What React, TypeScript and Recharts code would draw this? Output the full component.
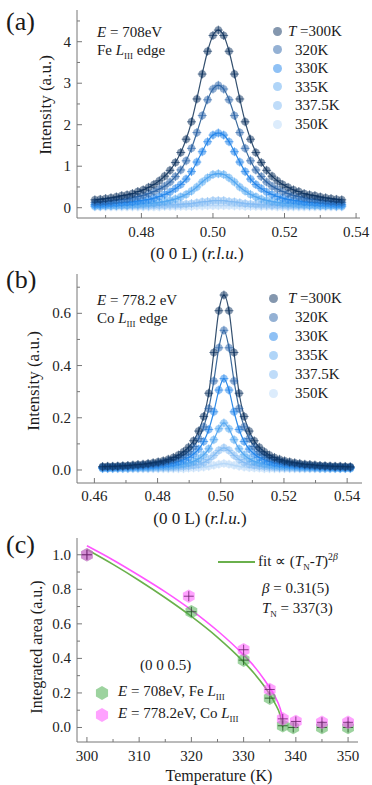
import React from "react";
import { ComposedChart, Line, Scatter, XAxis, YAxis } from "recharts";

const FONT = '"Liberation Serif", "Times New Roman", serif';
const FRAME = "#777";

// ---- (a) E = 708 eV, Fe L_III edge : L scans ----
const lFe = [
  0.467, 0.4685, 0.47, 0.4715, 0.473, 0.4745, 0.476, 0.4775, 0.479, 0.4805, 0.482, 0.4835,
  0.485, 0.4865, 0.488, 0.4895, 0.491, 0.4925, 0.494, 0.4955, 0.497, 0.4985, 0.5, 0.5015,
  0.503, 0.5045, 0.506, 0.5075, 0.509, 0.5105, 0.512, 0.5135, 0.515, 0.5165, 0.518, 0.5195,
  0.521, 0.5225, 0.524, 0.5255, 0.527, 0.5285, 0.53, 0.5315, 0.533, 0.5345, 0.536,
];
const fe300 = [
  0.19, 0.2, 0.22, 0.24, 0.26, 0.29, 0.31, 0.34, 0.39, 0.43, 0.49, 0.56, 0.65, 0.76, 0.9, 1.09,
  1.33, 1.65, 2.07, 2.62, 3.22, 3.77, 4.15, 4.28, 4.15, 3.77, 3.22, 2.62, 2.07, 1.65, 1.33, 1.09,
  0.9, 0.76, 0.65, 0.56, 0.49, 0.43, 0.39, 0.34, 0.31, 0.29, 0.26, 0.24, 0.22, 0.2, 0.19,
];
const fe320 = [
  0.13, 0.14, 0.15, 0.16, 0.18, 0.2, 0.21, 0.24, 0.27, 0.3, 0.34, 0.39, 0.45, 0.52, 0.62, 0.75,
  0.91, 1.13, 1.43, 1.81, 2.22, 2.6, 2.86, 2.95, 2.86, 2.6, 2.22, 1.81, 1.43, 1.13, 0.91, 0.75,
  0.62, 0.52, 0.45, 0.39, 0.34, 0.3, 0.27, 0.24, 0.21, 0.2, 0.18, 0.16, 0.15, 0.14, 0.13,
];
const fe330 = [
  0.08, 0.08, 0.09, 0.1, 0.11, 0.12, 0.13, 0.14, 0.16, 0.18, 0.2, 0.23, 0.27, 0.32, 0.38, 0.46,
  0.56, 0.69, 0.87, 1.1, 1.35, 1.59, 1.75, 1.8, 1.75, 1.59, 1.35, 1.1, 0.87, 0.69, 0.56, 0.46,
  0.38, 0.32, 0.27, 0.23, 0.2, 0.18, 0.16, 0.14, 0.13, 0.12, 0.11, 0.1, 0.09, 0.08, 0.08,
];
const fe335 = [
  0.04, 0.04, 0.05, 0.05, 0.05, 0.06, 0.06, 0.07, 0.08, 0.09, 0.1, 0.11, 0.13, 0.15, 0.18, 0.21,
  0.26, 0.32, 0.4, 0.5, 0.62, 0.72, 0.8, 0.82, 0.8, 0.72, 0.62, 0.5, 0.4, 0.32, 0.26, 0.21,
  0.18, 0.15, 0.13, 0.11, 0.1, 0.09, 0.08, 0.07, 0.06, 0.06, 0.05, 0.05, 0.05, 0.04, 0.04,
];
const fe3375 = [
  0.04, 0.04, 0.05, 0.05, 0.05, 0.05, 0.05, 0.05, 0.05, 0.05, 0.05, 0.06, 0.06, 0.06, 0.07, 0.07,
  0.08, 0.09, 0.1, 0.12, 0.14, 0.15, 0.17, 0.17, 0.17, 0.15, 0.14, 0.12, 0.1, 0.09, 0.08, 0.07,
  0.07, 0.06, 0.06, 0.06, 0.05, 0.05, 0.05, 0.05, 0.05, 0.05, 0.05, 0.05, 0.05, 0.04, 0.04,
];
const fe350 = [
  0.02, 0.02, 0.02, 0.02, 0.02, 0.02, 0.02, 0.02, 0.02, 0.02, 0.02, 0.02, 0.02, 0.03, 0.03, 0.03,
  0.03, 0.03, 0.03, 0.04, 0.04, 0.05, 0.05, 0.05, 0.05, 0.05, 0.04, 0.04, 0.03, 0.03, 0.03, 0.03,
  0.03, 0.03, 0.02, 0.02, 0.02, 0.02, 0.02, 0.02, 0.02, 0.02, 0.02, 0.02, 0.02, 0.02, 0.02,
];

// ---- (b) E = 778.2 eV, Co L_III edge : L scans ----
const lCo = [
  0.4626, 0.4642, 0.4658, 0.4674, 0.469, 0.4706, 0.4722, 0.4738, 0.4754, 0.477, 0.4786, 0.4802,
  0.4818, 0.4834, 0.485, 0.4866, 0.4882, 0.4898, 0.4914, 0.493, 0.4946, 0.4962, 0.4978, 0.4994,
  0.501, 0.5026, 0.5042, 0.5058, 0.5074, 0.509, 0.5106, 0.5122, 0.5138, 0.5154, 0.517, 0.5186,
  0.5202, 0.5218, 0.5234, 0.525, 0.5266, 0.5282, 0.5298, 0.5314, 0.533, 0.5346, 0.5362, 0.5378,
  0.5394, 0.541,
];
const co300 = [
  0.013, 0.014, 0.014, 0.015, 0.016, 0.017, 0.019, 0.021, 0.022, 0.025, 0.028, 0.031, 0.035,
  0.041, 0.048, 0.057, 0.07, 0.087, 0.112, 0.149, 0.205, 0.294, 0.45, 0.61, 0.67, 0.61, 0.45,
  0.294, 0.205, 0.149, 0.112, 0.087, 0.07, 0.057, 0.048, 0.041, 0.035, 0.031, 0.028, 0.025,
  0.022, 0.021, 0.019, 0.017, 0.016, 0.015, 0.014, 0.014, 0.013, 0.012,
];
const co320 = [
  0.011, 0.012, 0.012, 0.013, 0.014, 0.015, 0.016, 0.017, 0.019, 0.021, 0.023, 0.026, 0.029,
  0.034, 0.039, 0.047, 0.057, 0.07, 0.09, 0.12, 0.165, 0.235, 0.341, 0.468, 0.535, 0.468, 0.341,
  0.235, 0.165, 0.12, 0.09, 0.07, 0.057, 0.047, 0.039, 0.034, 0.029, 0.026, 0.023, 0.021, 0.019,
  0.017, 0.016, 0.015, 0.014, 0.013, 0.012, 0.012, 0.011, 0.011,
];
const co330 = [
  0.009, 0.009, 0.01, 0.01, 0.011, 0.011, 0.012, 0.013, 0.014, 0.015, 0.017, 0.019, 0.021,
  0.024, 0.027, 0.032, 0.039, 0.048, 0.061, 0.08, 0.109, 0.155, 0.223, 0.306, 0.35, 0.306, 0.223,
  0.155, 0.109, 0.08, 0.061, 0.048, 0.039, 0.032, 0.027, 0.024, 0.021, 0.019, 0.017, 0.015,
  0.014, 0.013, 0.012, 0.011, 0.011, 0.01, 0.01, 0.009, 0.009, 0.009,
];
const co335 = [
  0.007, 0.007, 0.007, 0.008, 0.008, 0.008, 0.009, 0.009, 0.01, 0.01, 0.011, 0.012, 0.013,
  0.014, 0.016, 0.019, 0.022, 0.027, 0.033, 0.043, 0.058, 0.081, 0.116, 0.158, 0.18, 0.158,
  0.116, 0.081, 0.058, 0.043, 0.033, 0.027, 0.022, 0.019, 0.016, 0.014, 0.013, 0.012, 0.011,
  0.01, 0.01, 0.009, 0.009, 0.008, 0.008, 0.008, 0.007, 0.007, 0.007, 0.007,
];
const co3375 = [
  0.006, 0.006, 0.006, 0.006, 0.006, 0.006, 0.007, 0.007, 0.007, 0.007, 0.008, 0.008, 0.009,
  0.009, 0.01, 0.011, 0.013, 0.015, 0.018, 0.022, 0.029, 0.04, 0.056, 0.075, 0.085, 0.075, 0.056,
  0.04, 0.029, 0.022, 0.018, 0.015, 0.013, 0.011, 0.01, 0.009, 0.009, 0.008, 0.008, 0.007,
  0.007, 0.007, 0.007, 0.006, 0.006, 0.006, 0.006, 0.006, 0.006, 0.006,
];
const co350 = [
  0.005, 0.005, 0.005, 0.005, 0.005, 0.005, 0.005, 0.005, 0.005, 0.005, 0.005, 0.005, 0.005,
  0.005, 0.005, 0.005, 0.005, 0.007, 0.008, 0.009, 0.011, 0.014, 0.018, 0.022, 0.025, 0.022,
  0.018, 0.014, 0.011, 0.009, 0.008, 0.007, 0.005, 0.005, 0.005, 0.005, 0.005, 0.005, 0.005,
  0.005, 0.005, 0.005, 0.005, 0.005, 0.005, 0.005, 0.005, 0.005, 0.005, 0.005,
];

const tempLabels = ["300K", "320K", "330K", "335K", "337.5K", "350K"];

// ---- (c) integrated area vs temperature ----
const feTemps = [300, 320, 330, 335, 337.5, 339.5, 345, 350];
const feArea = [1.0, 0.67, 0.39, 0.17, 0.01, 0.0, 0.0, 0.0];
const coTemps = [300, 319.5, 330, 335, 337.5, 340, 345, 350];
const coArea = [1.0, 0.76, 0.45, 0.22, 0.05, 0.035, 0.03, 0.03];
const fitTemps = [300, 305, 310, 315, 320, 325, 330, 332, 334, 335, 336, 337, 337.5];
const feFit = [1.03, 0.944, 0.851, 0.751, 0.643, 0.522, 0.38, 0.314, 0.237, 0.192, 0.14, 0.071, 0.0];
const coFit = [1.052, 0.97, 0.88, 0.785, 0.68, 0.56, 0.42, 0.355, 0.275, 0.23, 0.18, 0.11, 0.05];

// styles
const dotColors = ["#0a2f5d", "#2963a9", "#1f83eb", "#4ea5f2", "#7fb9f3", "#b9d9f9"];
const lineColors = ["#34506f", "#3c6a9c", "#2f8ae6", "#5aa8ef", "#8cc4f3", "#b8dbf9"];
const legendColors = ["#8497ae", "#94b1d4", "#8fc1f5", "#b0d5f8", "#bfdcf9", "#dcecfc"];

const near = (a: number, b: number) => Math.abs(a - b) < 1e-7;

function makeTick(side: string, majors: number[], fmt: (v: number) => string, gap = 18) {
  return (p: any) => {
    const { x, y, payload } = p;
    const v = payload.value as number;
    const major = majors.some((m) => near(m, v));
    const len = major ? 5 : 3;
    const ts = { fontFamily: FONT, fontSize: 15, fill: "#222" };
    if (side === "bottom")
      return (
        <g>
          <line x1={x} y1={y} x2={x} y2={y - len} stroke={FRAME} />
          {major && (
            <text x={x} y={y + gap} textAnchor="middle" style={ts}>
              {fmt(v)}
            </text>
          )}
        </g>
      );
    if (side === "top") return <line x1={x} y1={y} x2={x} y2={y + len} stroke={FRAME} />;
    if (side === "left")
      return (
        <g>
          <line x1={x} y1={y} x2={x + len} y2={y} stroke={FRAME} />
          {major && (
            <text x={x - 6} y={y + 5} textAnchor="end" style={ts}>
              {fmt(v)}
            </text>
          )}
        </g>
      );
    return <line x1={x} y1={y} x2={x - len} y2={y} stroke={FRAME} />;
  };
}

const makeDot = (color: string) => (p: any) => {
  const { cx, cy, index } = p;
  if (cx == null || cy == null) return <g key={`n${index}`} />;
  return (
    <g key={`d${index}`}>
      <circle cx={cx} cy={cy} r={3.8} fill={color} fillOpacity={0.5} />
      <path
        d={`M${cx - 4.5},${cy}H${cx + 4.5}M${cx},${cy - 4.5}V${cy + 4.5}`}
        stroke={color}
        strokeOpacity={0.75}
        strokeWidth={0.8}
      />
    </g>
  );
};

const hexPoints = (cx: number, cy: number, r: number) =>
  [0, 1, 2, 3, 4, 5]
    .map((i) => {
      const a = (Math.PI / 3) * i - Math.PI / 2;
      return `${cx + r * Math.cos(a)},${cy + r * Math.sin(a)}`;
    })
    .join(" ");

const makeHex = (fill: string, dark: string) => (p: any) => {
  const { cx, cy } = p;
  return (
    <g>
      <polygon points={hexPoints(cx, cy, 6.8)} fill={fill} fillOpacity={0.55} />
      <path d={`M${cx - 5},${cy}H${cx + 5}M${cx},${cy - 5}V${cy + 5}`} stroke={dark} strokeWidth={1} strokeOpacity={0.8} />
    </g>
  );
};

const Txt = ({ x, y, size = 15, mid = false, rot = false, children }: any) => (
  <div
    style={{
      position: "absolute",
      left: x,
      top: y,
      fontFamily: FONT,
      fontSize: size,
      lineHeight: 1,
      color: "#1a1a1a",
      whiteSpace: "nowrap",
      transform: rot ? "translate(-50%,-50%) rotate(-90deg)" : mid ? "translate(-50%,-50%)" : "translateY(-50%)",
    }}
  >
    {children}
  </div>
);

const Sub = ({ children }: any) => (
  <span style={{ fontSize: "0.6em", verticalAlign: "-0.35em" }}>{children}</span>
);

function ScanPanel(props: any) {
  const { top, height, mTop, mRight, xH, L, series, xDomain, yDomain, xTicks, xMajors, yTicks, yMajors, xFmt, yFmt, gap } = props;
  const rows = L.map((l: number, i: number) => {
    const r: any = { L: l };
    series.forEach((s: number[], j: number) => (r["s" + j] = s[i]));
    return r;
  });
  const order = [5, 4, 3, 2, 1, 0];
  return (
    <div style={{ position: "absolute", left: 0, top }}>
      <ComposedChart width={372} height={height} data={rows} margin={{ top: mTop, right: mRight, bottom: 0, left: 0 }}>
        <XAxis dataKey="L" type="number" domain={xDomain} allowDataOverflow ticks={xTicks} interval={0} height={xH}
          tickSize={0} tickMargin={0} tickLine={false} axisLine={{ stroke: FRAME }} tick={makeTick("bottom", xMajors, xFmt, gap)} />
        <XAxis xAxisId="top" orientation="top" type="number" domain={xDomain} allowDataOverflow ticks={xTicks} interval={0} height={0}
          tickSize={0} tickMargin={0} tickLine={false} axisLine={{ stroke: FRAME }} tick={makeTick("top", xMajors, xFmt)} />
        <YAxis type="number" domain={yDomain} allowDataOverflow ticks={yTicks} interval={0} width={77}
          tickSize={0} tickMargin={0} tickLine={false} axisLine={{ stroke: FRAME }} tick={makeTick("left", yMajors, yFmt)} />
        <YAxis yAxisId="right" orientation="right" type="number" domain={yDomain} allowDataOverflow ticks={yTicks} interval={0} width={0}
          tickSize={0} tickMargin={0} tickLine={false} axisLine={{ stroke: FRAME }} tick={makeTick("right", yMajors, yFmt)} />
        {order.map((j) => (
          <Line key={j} dataKey={"s" + j} type="monotone" stroke={lineColors[j]} strokeWidth={1.2}
            dot={makeDot(dotColors[j])} activeDot={false} isAnimationActive={false} />
        ))}
      </ComposedChart>
    </div>
  );
}

function TempLegend({ x, tx, y0, dy }: any) {
  return (
    <>
      {tempLabels.map((t, i) => (
        <React.Fragment key={t}>
          <div style={{ position: "absolute", left: x - 4.5, top: y0 + i * dy - 4.5, width: 9, height: 9, borderRadius: 5, background: legendColors[i] }} />
          <Txt x={i === 0 ? tx : tx + 7} y={y0 + i * dy}>
            {i === 0 ? (
              <>
                <i>T</i> ={t}
              </>
            ) : (
              t
            )}
          </Txt>
        </React.Fragment>
      ))}
    </>
  );
}

export default function App() {
  const feRows = feTemps.map((T, i) => ({ T, v: feArea[i] }));
  const coRows = coTemps.map((T, i) => ({ T, v: coArea[i] }));
  const feFitRows = fitTemps.map((T, i) => ({ T, v: feFit[i] }));
  const coFitRows = fitTemps.map((T, i) => ({ T, v: coFit[i] }));
  const cDomX: [number, number] = [298.1, 351.9];
  const cDomY: [number, number] = [-0.084, 1.097];
  const cTx = [300, 305, 310, 315, 320, 325, 330, 335, 340, 345, 350];
  const cTxM = [300, 310, 320, 330, 340, 350];
  const cTy = [0, 0.1, 0.2, 0.3, 0.4, 0.5, 0.6, 0.7, 0.8, 0.9, 1.0];
  const cTyM = [0, 0.2, 0.4, 0.6, 0.8, 1.0];
  const axisCommon = { tickSize: 0, tickMargin: 0, tickLine: false, axisLine: { stroke: FRAME }, interval: 0 as const, allowDataOverflow: true };

  return (
    <div style={{ position: "relative", width: 372, height: 785, background: "#fff", overflow: "hidden" }}>
      <style>{"body{margin:0}"}</style>

      {/* (a) */}
      <ScanPanel top={0} height={260} mTop={10} mRight={12} xH={42} L={lFe}
        series={[fe300, fe320, fe330, fe335, fe3375, fe350]}
        xDomain={[0.462, 0.5411]} yDomain={[-0.248, 4.764]}
        xTicks={[0.47, 0.48, 0.49, 0.5, 0.51, 0.52, 0.53, 0.54]} xMajors={[0.48, 0.5, 0.52, 0.54]}
        yTicks={[0, 0.5, 1, 1.5, 2, 2.5, 3, 3.5, 4, 4.5]} yMajors={[0, 1, 2, 3, 4]}
        xFmt={(v: number) => v.toFixed(2)} yFmt={(v: number) => String(v)} gap={19} />
      <Txt x={6} y={22} size={26}>(a)</Txt>
      <Txt x={97} y={32}><i>E</i> = 708eV</Txt>
      <Txt x={97} y={52}>Fe <i>L</i><Sub>III</Sub> edge</Txt>
      <TempLegend x={277} tx={288} y0={31} dy={18.6} />
      <Txt x={45} y={105} size={17} rot>Intensity (a.u.)</Txt>
      <Txt x={197} y={253} size={17} mid>(0 0 L) (<i>r.l.u.</i>)</Txt>

      {/* (b) */}
      <ScanPanel top={260} height={260} mTop={14} mRight={10} xH={37} L={lCo}
        series={[co300, co320, co330, co335, co3375, co350]}
        xDomain={[0.4545, 0.5447]} yDomain={[-0.0498, 0.7506]}
        xTicks={[0.46, 0.47, 0.48, 0.49, 0.5, 0.51, 0.52, 0.53, 0.54]} xMajors={[0.46, 0.48, 0.5, 0.52, 0.54]}
        yTicks={[0, 0.1, 0.2, 0.3, 0.4, 0.5, 0.6, 0.7]} yMajors={[0, 0.2, 0.4, 0.6]}
        xFmt={(v: number) => v.toFixed(2)} yFmt={(v: number) => v.toFixed(1)} gap={18} />
      <Txt x={6} y={280} size={26}>(b)</Txt>
      <Txt x={97} y={300}><i>E</i> = 778.2 eV</Txt>
      <Txt x={97} y={320}>Co <i>L</i><Sub>III</Sub> edge</Txt>
      <TempLegend x={273} tx={288} y0={298} dy={19} />
      <Txt x={33} y={381} size={17} rot>Intensity (a.u.)</Txt>
      <Txt x={200} y={518} size={17} mid>(0 0 L) (<i>r.l.u.</i>)</Txt>

      {/* (c) */}
      <div style={{ position: "absolute", left: 0, top: 520 }}>
        <ComposedChart width={372} height={265} margin={{ top: 18, right: 14, bottom: 0, left: 0 }}>
          <XAxis dataKey="T" type="number" domain={cDomX} ticks={cTx} height={43} {...axisCommon}
            tick={makeTick("bottom", cTxM, (v) => String(v), 19)} />
          <XAxis xAxisId="top" orientation="top" type="number" domain={cDomX} ticks={cTx} height={0} {...axisCommon}
            tick={makeTick("top", cTxM, (v) => String(v))} />
          <YAxis dataKey="v" type="number" domain={cDomY} ticks={cTy} width={77} {...axisCommon}
            tick={makeTick("left", cTyM, (v) => v.toFixed(1))} />
          <YAxis yAxisId="right" orientation="right" type="number" domain={cDomY} ticks={cTy} width={0} {...axisCommon}
            tick={makeTick("right", cTyM, (v) => v.toFixed(1))} />
          <Line data={feFitRows} dataKey="v" type="monotone" stroke="#6ab04c" strokeWidth={1.6} dot={false} activeDot={false} isAnimationActive={false} />
          <Line data={coFitRows} dataKey="v" type="monotone" stroke="#ff55ff" strokeWidth={1.6} dot={false} activeDot={false} isAnimationActive={false} />
          <Scatter data={feRows} dataKey="v" shape={makeHex("#4caf50", "#1f4d1f")} isAnimationActive={false} />
          <Scatter data={coRows} dataKey="v" shape={makeHex("#ff55ff", "#6a1f6a")} isAnimationActive={false} />
        </ComposedChart>
      </div>
      <Txt x={6} y={545} size={26}>(c)</Txt>
      <div style={{ position: "absolute", left: 218, top: 561, width: 37, height: 2, background: "#6ab04c" }} />
      <Txt x={258} y={562}>fit ∝ (<i>T</i><Sub>N</Sub>-<i>T</i>)<sup style={{ fontSize: "0.65em" }}>2<i>β</i></sup></Txt>
      <Txt x={262} y={588}><i>β</i> = 0.31(5)</Txt>
      <Txt x={262} y={610}><i>T</i><Sub>N</Sub> = 337(3)</Txt>
      <Txt x={140} y={665}>(0 0 0.5)</Txt>
      <svg style={{ position: "absolute", left: 0, top: 0 }} width={372} height={785} pointerEvents="none">
        <polygon points={hexPoints(102, 693, 7)} fill="#4caf50" fillOpacity={0.55} />
        <polygon points={hexPoints(102, 715, 7)} fill="#ff55ff" fillOpacity={0.55} />
      </svg>
      <Txt x={118} y={693}><i>E</i> = 708eV, Fe <i>L</i><Sub>III</Sub></Txt>
      <Txt x={118} y={715}><i>E</i> = 778.2eV, Co <i>L</i><Sub>III</Sub></Txt>
      <Txt x={219} y={776} size={16} mid>Temperature (K)</Txt>
      <Txt x={37} y={647} size={16} rot>Integrated area (a.u.)</Txt>
    </div>
  );
}
